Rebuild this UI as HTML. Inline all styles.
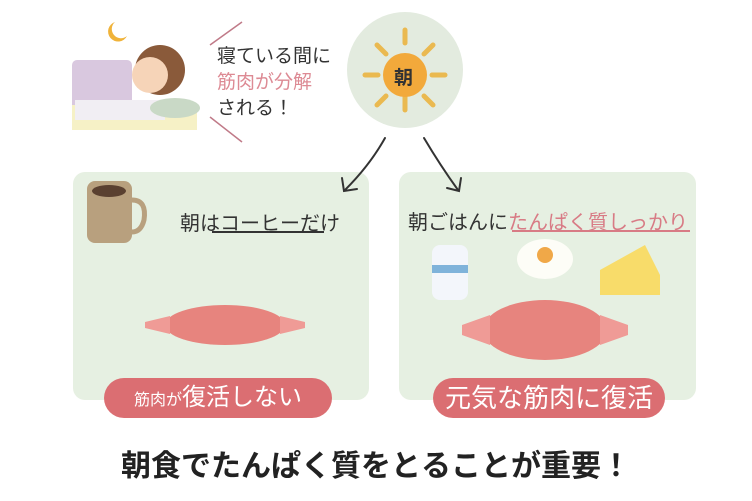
<!DOCTYPE html>
<html><head><meta charset="utf-8"><style>
body{margin:0;width:752px;height:501px;background:#fff;position:relative;overflow:hidden;font-family:"Liberation Sans","Noto Sans CJK JP",sans-serif}
.a{position:absolute}
.panel{position:absolute;background:#e6f0e2;border-radius:12px;top:172px;height:228px}
.pill{position:absolute;background:#db6e72;color:#fff;border-radius:20px;text-align:center;height:40px;line-height:40px;top:378px;font-size:24px}
</style></head><body>
<div class="panel" style="left:73px;width:296px"></div>
<div class="panel" style="left:399px;width:297px"></div>
<svg class="a" style="left:0;top:0" width="752" height="501">
<circle cx="405" cy="70" r="58" fill="#e3ebdf"/>
<g stroke="#eab950" stroke-width="5" stroke-linecap="round">
<line x1="405" y1="30" x2="405" y2="43"/><line x1="405" y1="97" x2="405" y2="110"/>
<line x1="365" y1="75" x2="378" y2="75"/><line x1="432" y1="75" x2="445" y2="75"/>
<line x1="377" y1="45" x2="386" y2="54"/><line x1="424" y1="96" x2="433" y2="105"/>
<line x1="433" y1="45" x2="424" y2="54"/><line x1="386" y1="96" x2="377" y2="105"/>
</g>
<circle cx="405" cy="75" r="22" fill="#f2a93b"/>
<g fill="none" stroke="#333" stroke-width="2" stroke-linecap="round">
<path d="M385 138 Q370 165 345 190"/><path d="M342 178 L344 191 L357 189"/>
<path d="M424 138 Q440 165 458 190"/><path d="M447 188 L459 191 L461 178"/>
</g>
<g stroke="#c07a88" stroke-width="1.5"><line x1="210" y1="45" x2="242" y2="22"/><line x1="210" y1="117" x2="242" y2="142"/></g>
<rect x="72" y="60" width="60" height="60" rx="5" fill="#d9c8df"/>
<rect x="72" y="105" width="125" height="25" fill="#f6f1c6"/>
<rect x="75" y="100" width="90" height="20" fill="#f1eef3"/>
<ellipse cx="175" cy="108" rx="25" ry="10" fill="#c9d9c6"/>
<circle cx="160" cy="70" r="25" fill="#8a5a3a"/><circle cx="150" cy="75" r="18" fill="#f6d4b8"/>
<path d="M115 22 a10 10 0 1 0 12 14 a8 8 0 1 1 -12 -14z" fill="#f0b33a"/>
<rect x="87" y="181" width="45" height="62" rx="8" fill="#b8a07e"/><ellipse cx="109" cy="191" rx="17" ry="6" fill="#5a4030"/>
<path d="M132 200 q15 0 12 20 q-3 12 -12 12" fill="none" stroke="#b8a07e" stroke-width="5"/>
<line x1="212" y1="232" x2="324" y2="232" stroke="#333" stroke-width="2"/>
<line x1="512" y1="231" x2="690" y2="231" stroke="#d87b85" stroke-width="2"/>
<ellipse cx="225" cy="325" rx="60" ry="20" fill="#e7847e"/>
<path d="M145 322 L170 316 L170 334 L145 328z M305 322 L280 316 L280 334 L305 328z" fill="#ef9b96"/>
<ellipse cx="545" cy="330" rx="62" ry="30" fill="#e7847e"/>
<path d="M462 325 L490 315 L490 345 L462 335z M628 325 L600 315 L600 345 L628 335z" fill="#ef9b96"/>
<rect x="432" y="245" width="36" height="55" rx="8" fill="#f3f6fb"/><rect x="432" y="265" width="36" height="8" fill="#7fb3da"/>
<ellipse cx="545" cy="259" rx="28" ry="20" fill="#fdfdf7"/><circle cx="545" cy="255" r="8" fill="#f0a848"/>
<path d="M600 270 L645 245 L660 275 L660 295 L600 295z" fill="#f8dc6a"/>
</svg>
<div class="a" style="left:217px;top:44px;font-size:19px;line-height:26px;color:#333">寝ている間に<br><span style="color:#dd8a94">筋肉が分解</span><br>される！</div>
<div class="a" style="left:394px;top:63px;font-size:19px;font-weight:bold;color:#333">朝</div>
<div class="a" style="left:180px;top:207px;font-size:20px;color:#333">朝はコーヒーだけ</div>
<div class="a" style="left:408px;top:206px;font-size:20px;color:#333">朝ごはんに<span style="color:#d87b85">たんぱく質しっかり</span></div>
<div class="pill" style="left:104px;width:228px"><span style="font-size:16px">筋肉が</span>復活しない</div>
<div class="pill" style="left:433px;width:232px;font-size:26px">元気な筋肉に復活</div>
<div class="a" style="left:0;width:752px;top:441px;text-align:center;font-size:30px;font-weight:bold;color:#222">朝食でたんぱく質をとることが重要！</div>
</body></html>
